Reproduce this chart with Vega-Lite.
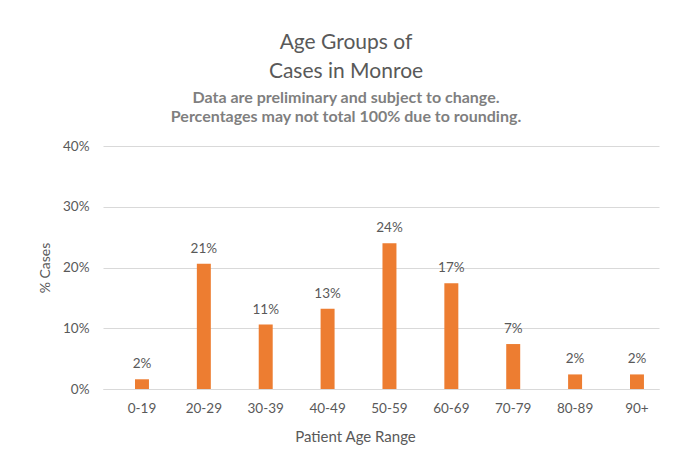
{
  "$schema": "https://vega.github.io/schema/vega-lite/v6.json",
  "width": 556,
  "height": 243,
  "autosize": {"type": "none"},
  "padding": {"left": 103, "top": 146, "right": 23, "bottom": 73},
  "background": "white",
  "title": {
    "text": ["Age Groups of", "Cases in Monroe"],
    "subtitle": ["Data are preliminary and subject to change.", "Percentages may not total 100% due to rounding."],
    "anchor": "middle",
    "dx": -35,
    "font": "Lato",
    "fontSize": 21,
    "fontWeight": "normal",
    "color": "#595959",
    "lineHeight": 29,
    "subtitleFont": "Lato",
    "subtitleFontSize": 16,
    "subtitleFontWeight": "bold",
    "subtitleColor": "#7f7f7f",
    "subtitleLineHeight": 19,
    "subtitlePadding": 8,
    "offset": 14
  },
  "data": {
    "values": [
      {"age": "0-19", "pct": 1.6, "label": "2%"},
      {"age": "20-29", "pct": 20.6, "label": "21%"},
      {"age": "30-39", "pct": 10.6, "label": "11%"},
      {"age": "40-49", "pct": 13.2, "label": "13%"},
      {"age": "50-59", "pct": 24.0, "label": "24%"},
      {"age": "60-69", "pct": 17.4, "label": "17%"},
      {"age": "70-79", "pct": 7.4, "label": "7%"},
      {"age": "80-89", "pct": 2.4, "label": "2%"},
      {"age": "90+", "pct": 2.4, "label": "2%"}
    ]
  },
  "config": {
    "view": {"stroke": null},
    "font": "Lato"
  },
  "encoding": {
    "x": {
      "field": "age",
      "type": "nominal",
      "sort": null,
      "scale": {"paddingInner": 0.774, "paddingOuter": 0.38, "align": 0.68},
      "axis": {
        "title": "Patient Age Range",
        "labelAngle": 0,
        "labelColor": "#595959",
        "labelFontSize": 13.5,
        "labelPadding": 12,
        "ticks": false,
        "domainColor": "#d9d9d9",
        "titleColor": "#595959",
        "titleFontSize": 15,
        "titleFontWeight": "normal",
        "titlePadding": 15,
        "titleX": 252
      }
    },
    "y": {
      "field": "pct",
      "type": "quantitative",
      "scale": {"domain": [0, 40]},
      "axis": {
        "title": "% Cases",
        "values": [0, 10, 20, 30, 40],
        "labelExpr": "datum.value + '%'",
        "labelColor": "#595959",
        "labelFontSize": 13.5,
        "labelPadding": 14,
        "ticks": false,
        "domain": false,
        "gridColor": "#d9d9d9",
        "titleColor": "#595959",
        "titleFontSize": 14,
        "titleFontWeight": "normal",
        "titlePadding": 10
      }
    }
  },
  "layer": [
    {"mark": {"type": "bar", "color": "#ed7d31"}},
    {
      "mark": {"type": "text", "dy": -15, "color": "#595959", "fontSize": 13.5, "font": "Lato"},
      "encoding": {"text": {"field": "label", "type": "nominal"}}
    }
  ]
}
